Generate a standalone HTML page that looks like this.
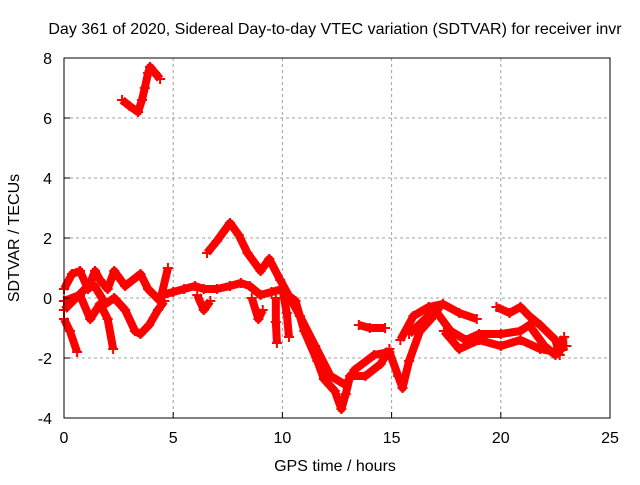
<!DOCTYPE html>
<html><head><meta charset="utf-8"><style>
body{margin:0;background:#fff;}
svg text{font-family:"Liberation Sans",sans-serif;font-size:16px;fill:#000;}
</style></head><body>
<svg id="chart" width="640" height="480" viewBox="0 0 640 480">
<rect width="640" height="480" fill="#fff"/>
<g id="grid"></g>
<g id="series"></g>
<rect x="64" y="58" width="546" height="360" fill="none" stroke="#000" stroke-width="1"/>
<g id="ticks"></g>
<text x="335" y="34" text-anchor="middle">Day 361 of 2020, Sidereal Day-to-day VTEC variation (SDTVAR) for receiver invr</text>
<text x="335" y="471" text-anchor="middle">GPS time / hours</text>
<text x="19" y="238" text-anchor="middle" transform="rotate(-90 19 238)">SDTVAR / TECUs</text>
</svg>
<script>
const xTicks=[0,5,10,15,20,25];
const yTicks=[-4,-2,0,2,4,6,8];
const sA=[[2.66,6.6],[3.0,6.4],[3.39,6.2],[3.57,6.6],[3.7,7.0],[3.85,7.5],[3.94,7.7],[4.17,7.5],[4.4,7.3]];
const sB=[[6.55,1.5],[7.0,1.9],[7.6,2.5],[8.0,2.1],[8.4,1.5],[9.0,0.9],[9.4,1.3],[9.9,0.6],[10.8,-0.6],[11.5,-1.6],[12.2,-2.6],[12.9,-2.9],[13.3,-2.4],[14.2,-1.9],[14.9,-1.8],[15.3,-2.6],[15.5,-3.0],[15.8,-2.1],[16.3,-1.1],[16.8,-0.7],[17.2,-0.3]];
const sC=[[4.5,0.1],[5.0,0.2],[5.5,0.3],[6.0,0.4],[6.4,0.3],[7.0,0.3],[7.6,0.4],[8.1,0.5],[8.5,0.4],[9.0,0.1],[9.5,0.2],[10.0,0.3],[10.3,0.0]];
const sD=[[9.9,0.3],[10.6,-0.1],[11.0,-1.1],[11.6,-2.1],[11.9,-2.7],[12.4,-3.1],[12.7,-3.7],[12.9,-3.2],[13.1,-2.6],[13.8,-2.6],[14.5,-2.2],[14.9,-1.7]];
const sE=[[13.5,-0.9],[14.0,-1.0],[14.7,-1.0]];
const sF=[[15.4,-1.4],[16.0,-0.6],[16.7,-0.3],[17.35,-0.2],[18.1,-0.5],[18.9,-0.7]];
const sG=[[15.8,-1.2],[16.99,-0.4],[17.7,-1.1],[18.4,-1.4],[19.0,-1.2],[20.0,-1.2],[20.9,-1.1],[21.3,-0.9],[22.0,-1.6],[22.5,-1.9],[22.9,-1.3]];
const sH=[[19.8,-0.3],[20.4,-0.5],[20.9,-0.3],[21.3,-0.6],[21.8,-0.9],[22.5,-1.4],[22.7,-1.9]];
const sI=[[17.4,-1.1],[18.1,-1.7],[19.0,-1.4],[20.0,-1.6],[20.9,-1.4],[21.8,-1.7],[22.5,-1.8],[23.0,-1.6]];
const sJ=[[0,-0.7],[0.27,-1.1],[0.6,-1.8]];
const sK=[[0,0.3],[0.37,0.8],[0.73,0.9],[1.1,0.3],[1.42,0.9],[1.65,0.6],[2.0,0.3],[2.3,0.9],[2.8,0.4],[3.5,0.8],[3.85,0.3],[4.4,-0.1],[4.76,1.0]];
const sL=[[0,-0.1],[0.73,0.1],[1.2,-0.7],[1.65,-0.2],[2.0,-0.7],[2.25,-1.7]];
const sM=[[0,-0.4],[0.96,0.3],[1.4,0.4],[1.9,-0.2],[2.3,0.0],[2.8,-0.4],[3.25,-1.1],[3.5,-1.2],[3.9,-0.9],[4.3,-0.4],[4.6,-0.1]];
const sN=[[6.1,0.1],[6.4,-0.4],[6.7,-0.1]];
const sO=[[8.6,0.0],[8.9,-0.7],[9.1,-0.4]];
const sP=[[9.7,0.0],[9.7,-0.8],[9.75,-1.5]];
const sQ=[[10.0,0.3],[10.2,-0.5],[10.3,-1.3]];
const allSeries=[sA,sB,sC,sD,sE,sF,sG,sH,sI,sJ,sK,sL,sM,sN,sO,sP,sQ];
const NS='http://www.w3.org/2000/svg';
function X(t){return 64+t*546/25;}
function Y(v){return 298-v*30;}
const grid=document.getElementById('grid'),ticks=document.getElementById('ticks'),ser=document.getElementById('series');
xTicks.forEach(t=>{
 if(t>0&&t<25){const l=document.createElementNS(NS,'line');
 
 
 l.setAttribute('x1',X(t));l.setAttribute('x2',X(t));l.setAttribute('y1',58);l.setAttribute('y2',418);
 l.setAttribute('stroke','#a0a0a0');l.setAttribute('stroke-dasharray','3,3');grid.appendChild(l);}
 const tk=document.createElementNS(NS,'line');
 
 
 tk.setAttribute('x1',X(t));tk.setAttribute('x2',X(t));tk.setAttribute('y1',418);tk.setAttribute('y2',412);tk.setAttribute('stroke','#000');ticks.appendChild(tk);
 const tx=document.createElementNS(NS,'text');
 
 
 tx.setAttribute('x',X(t));tx.setAttribute('y',443);tx.setAttribute('text-anchor','middle');tx.textContent=t;ticks.appendChild(tx);
});
yTicks.forEach(v=>{
 if(v>-4&&v<8){const l=document.createElementNS(NS,'line');
 
 
 l.setAttribute('x1',64);l.setAttribute('x2',610);l.setAttribute('y1',Y(v));l.setAttribute('y2',Y(v));
 l.setAttribute('stroke','#a0a0a0');l.setAttribute('stroke-dasharray','3,3');grid.appendChild(l);}
 const tk=document.createElementNS(NS,'line');
 
 
 tk.setAttribute('x1',64);tk.setAttribute('x2',70);tk.setAttribute('y1',Y(v));tk.setAttribute('y2',Y(v));tk.setAttribute('stroke','#000');ticks.appendChild(tk);
 const tx=document.createElementNS(NS,'text');
 
 
 tx.setAttribute('x',52);tx.setAttribute('y',Y(v)+6);tx.setAttribute('text-anchor','end');tx.textContent=v;ticks.appendChild(tx);
});
allSeries.forEach(s=>{
 const p=document.createElementNS(NS,'polyline');
 
 
 p.setAttribute('points',s.map(d=>X(d[0])+','+Y(d[1])).join(' '));
 p.setAttribute('fill','none');p.setAttribute('stroke','#ff0000');p.setAttribute('stroke-width','8');p.setAttribute('stroke-linejoin','round');
 ser.appendChild(p);
 s.forEach(d=>{
  const m=document.createElementNS(NS,'path');
  
  
  const x=X(d[0]),y=Y(d[1]);
  m.setAttribute('d',`M${x-5} ${y}H${x+5}M${x} ${y-5}V${y+5}`);
  m.setAttribute('stroke','#ff0000');m.setAttribute('stroke-width','2');
  ser.appendChild(m);
 });
});
</script>
</body></html>
